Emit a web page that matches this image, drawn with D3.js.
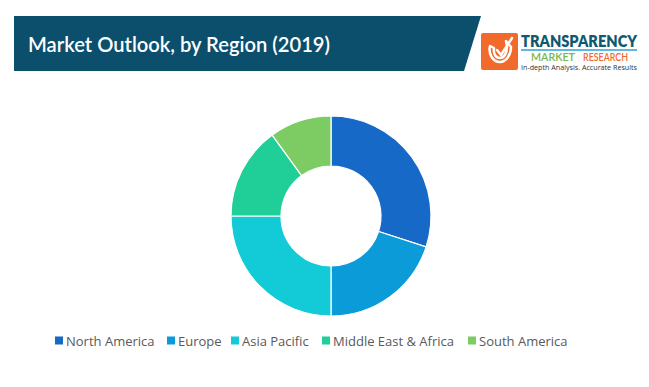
<!DOCTYPE html>
<html>
<head>
<meta charset="utf-8">
<script src="https://cdn.jsdelivr.net/npm/d3@7"></script>
<style>
  html, body { margin: 0; padding: 0; background: #fff; }
  svg { display: block; }
</style>
</head>
<body>
<svg id="chart" width="649" height="387"></svg>
<script>
const categories = ["North America", "Europe", "Asia Pacific", "Middle East & Africa", "South America"];
const values = [30, 20, 25, 15, 10];
const colors = ["#1669c6", "#0b9bd9", "#13cad7", "#1fcf97", "#7dcc63"];
const title = "Market Outlook, by Region (2019)";

const svg = d3.select("#chart");

// Banner
svg.append("path")
  .attr("d", "M14,16 L481,16 L464,71 L14,71 Z")
  .attr("fill", "#0b4f6c");
svg.append("text")
  .attr("x", 28).attr("y", 52)
  .attr("fill", "#fff")
  .attr("font-family", "Lato, 'Open Sans', sans-serif")
  .attr("font-size", 21)
  .attr("font-weight", 600)
  .attr("textLength", 302).attr("lengthAdjust", "spacingAndGlyphs")
  .text(title);

// Logo
const logo = svg.append("g");
logo.append("rect").attr("x", 481).attr("y", 33).attr("width", 37).attr("height", 37).attr("rx", 2).attr("fill", "#f26a2b");
logo.append("path")
  .attr("d", "M490,46 C488,54 493,62 500,62 C506,62 511,55 511,47 L506,41 L507,47 C507,53 504,58 500,58 C496,58 493,54 494,48 Z M497,50 L501,55 L512,38")
  .attr("fill", "none").attr("stroke", "#fff").attr("stroke-width", 2.5).attr("stroke-linecap", "round").attr("stroke-linejoin", "round");
logo.append("text").attr("x", 521).attr("y", 47)
  .attr("font-family", "Lato, 'Open Sans', sans-serif").attr("font-weight", 800)
  .attr("font-size", 16).attr("fill", "#0f5a70").attr("textLength", 116).attr("lengthAdjust", "spacingAndGlyphs")
  .text("TRANSPARENCY");
logo.append("line").attr("x1", 521).attr("x2", 637).attr("y1", 50).attr("y2", 50).attr("stroke", "#2aa0d8").attr("stroke-width", 1.5);
logo.append("text").attr("x", 531).attr("y", 61)
  .attr("font-family", "Lato, 'Open Sans', sans-serif").attr("font-weight", 600)
  .attr("font-size", 10.5).attr("fill", "#7ab648")
  .attr("textLength", 44).attr("lengthAdjust", "spacingAndGlyphs")
  .text("MARKET");
logo.append("text").attr("x", 583).attr("y", 61)
  .attr("font-family", "Lato, 'Open Sans', sans-serif").attr("font-weight", 600)
  .attr("font-size", 10.5).attr("fill", "#f26a2b")
  .attr("textLength", 45).attr("lengthAdjust", "spacingAndGlyphs")
  .text("RESEARCH");
logo.append("text").attr("x", 521).attr("y", 70)
  .attr("font-family", "'Open Sans', sans-serif")
  .attr("font-size", 6.5).attr("fill", "#333").attr("textLength", 116).attr("lengthAdjust", "spacingAndGlyphs")
  .text("In-depth Analysis. Accurate Results");

// Donut
const cx = 331, cy = 216, rOuter = 100, rInner = 50;
const pie = d3.pie().sort(null).value(d => d.value);
const arc = d3.arc().innerRadius(rInner).outerRadius(rOuter);
const data = categories.map((c, i) => ({ name: c, value: values[i] }));
const color = d3.scaleOrdinal().domain(categories).range(colors);

svg.append("g").attr("transform", `translate(${cx},${cy})`)
  .selectAll("path").data(pie(data)).join("path")
  .attr("d", arc)
  .attr("fill", d => color(d.data.name))
  .attr("stroke", "#fff").attr("stroke-width", 1.2);

// Legend
const legendX = [55, 167, 231, 322, 468];
const legend = svg.append("g");
const items = legend.selectAll("g").data(categories).join("g")
  .attr("transform", (d, i) => `translate(${legendX[i]},341)`);
items.append("rect").attr("x", 0).attr("y", -4.5).attr("width", 8).attr("height", 8).attr("fill", d => color(d));
items.append("text").attr("x", 11).attr("y", 0).attr("dy", "0.35em")
  .attr("font-family", "'Open Sans', sans-serif").attr("font-size", 13).attr("fill", "#595959")
  .text(d => d);
</script>
</body>
</html>
